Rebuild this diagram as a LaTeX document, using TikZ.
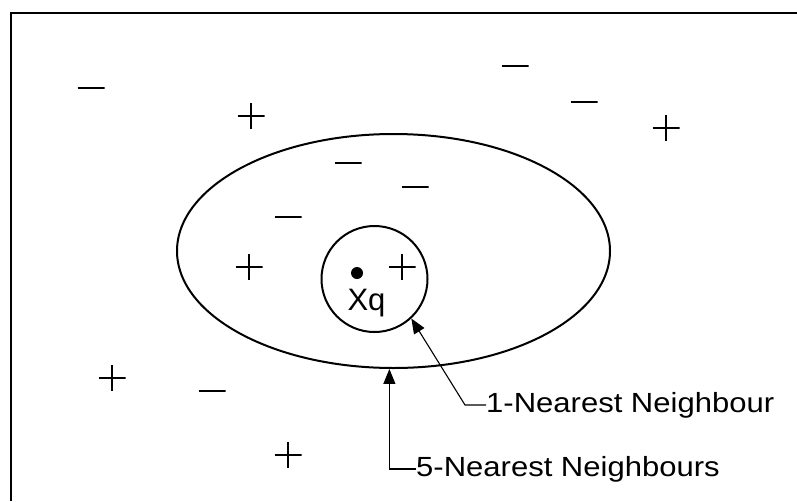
\documentclass[tikz,border=0pt]{standalone}
\usepackage{fontspec}
\setmainfont{Liberation Sans}
\newfontfamily\labfont[FakeStretch=1.12]{Liberation Sans}
\usetikzlibrary{shapes.geometric,arrows.meta}
\begin{document}
\begin{tikzpicture}[x=1pt,y=-1pt,
  sym/.style={line width=2.4pt},
  mk/.style={minimum width=27pt, minimum height=26pt, inner sep=0pt, outer sep=0pt},
  plusmark/.style={mk, path picture={\draw[sym] (path picture bounding box.west) -- (path picture bounding box.east) (path picture bounding box.north) -- (path picture bounding box.south);}},
  minusmark/.style={mk, minimum height=5pt, path picture={\draw[sym] (path picture bounding box.west) -- (path picture bounding box.east);}},
  region/.style={draw, line width=2pt, inner sep=0pt},
  lab/.style={font=\labfont\fontsize{27.7}{30}\selectfont, inner sep=0pt, text height=14pt, text depth=0pt},
  arr/.style={line width=1.1pt, -{Triangle[length=15pt,width=12pt]}}
]
\useasboundingbox (0,0) rectangle (797,501);
\fill[white] (0,0) rectangle (797,501);
% frame
\draw[line width=2.5pt] (797,13) -- (11,13) -- (11,501);
% regions
\node[region, ellipse, minimum width=433pt, minimum height=234pt] (big) at (393.5,251) {};
\node[region, circle, minimum size=106pt] (small) at (374.5,279) {};
% query point
\node[circle, fill, minimum size=12pt, inner sep=0pt] (xdot) at (357,273) {};
\node[font=\fontsize{31}{31}\selectfont, anchor=base, inner sep=0pt] (xq) at (366.5,310) {Xq};
% examples
\node[minusmark] (m1) at (91,88) {};
\node[minusmark] (m2) at (515,66) {};
\node[plusmark]  (p1) at (251,116) {};
\node[minusmark] (m3) at (584,102) {};
\node[plusmark]  (p2) at (666,128) {};
\node[minusmark] (m4) at (348,163) {};
\node[minusmark] (m5) at (415,187) {};
\node[minusmark] (m6) at (288,217) {};
\node[plusmark]  (p3) at (249,267) {};
\node[plusmark]  (p4) at (402,267) {};
\node[plusmark]  (p5) at (112,378) {};
\node[minusmark] (m7) at (212,391) {};
\node[plusmark]  (p6) at (288,455) {};
% labels
\node[lab, anchor=base west] (l1) at (486,412) {1-Nearest Neighbour};
\node[lab, anchor=base west] (l2) at (416,476) {5-Nearest Neighbours};
% connectors
\draw[arr] (l1.west) -- ++(-21,0) -- (small.-47);
\draw[arr] (l2.west) -| (big.268);
\end{tikzpicture}
\end{document}
